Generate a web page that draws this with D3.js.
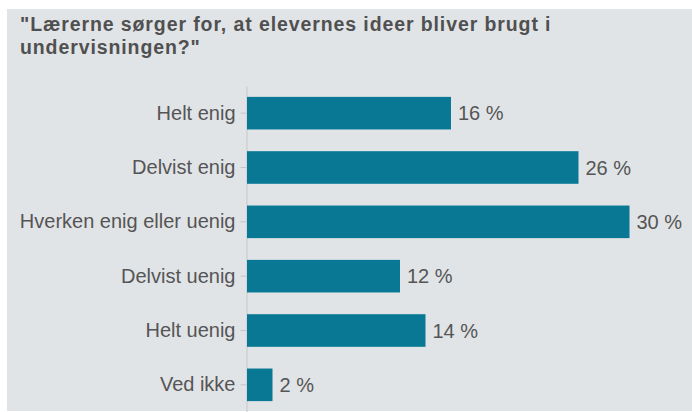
<!DOCTYPE html>
<html>
<head>
<meta charset="utf-8">
<script src="https://cdn.jsdelivr.net/npm/d3@7"></script>
<style>
  html, body { margin: 0; padding: 0; background: #ffffff; }
  svg { display: block; font-family: "Liberation Sans", Arial, Helvetica, sans-serif; }
</style>
</head>
<body>
<svg id="chart" width="692" height="412"></svg>
<script>
// Survey answers and their shares (percent)
const categories = ["Helt enig", "Delvist enig", "Hverken enig eller uenig", "Delvist uenig", "Helt uenig", "Ved ikke"];
const values = [16, 26, 30, 12, 14, 2];
const titleLines = ["\"Lærerne sørger for, at elevernes ideer bliver brugt i", "undervisningen?\""];

const svg = d3.select("#chart");
const W = 692, H = 412;

// Panel background
svg.append("rect")
  .attr("x", 7).attr("y", 9)
  .attr("width", W - 7).attr("height", 402)
  .attr("fill", "#e1e4e7");

// Title
svg.append("text")
  .attr("x", 20).attr("y", 31)
  .attr("font-size", 19.5).attr("font-weight", "bold")
  .attr("letter-spacing", 0.9)
  .attr("fill", "#505050")
  .selectAll("tspan")
  .data(titleLines)
  .join("tspan")
  .attr("x", 20)
  .attr("dy", (d, i) => i === 0 ? 0 : 22.5)
  .text(d => d);

const x0 = 247;
const x = d3.scaleLinear().domain([0, 30]).range([x0, x0 + 30 * 12.75]);
const y = d3.scaleBand().domain(categories).range([86, 412]).paddingInner(0.4).paddingOuter(0.2);

// Category axis
const axis = svg.append("g")
  .attr("transform", `translate(${x0 - 0.5},0)`)
  .call(d3.axisLeft(y).tickSize(6).tickSizeOuter(0).tickPadding(5));
axis.select(".domain").attr("stroke", "#c4c7ca");
axis.selectAll(".tick line").attr("stroke", "#c4c7ca");
axis.selectAll(".tick text")
  .attr("font-size", 20)
  .attr("font-family", "\"Liberation Sans\", Arial, sans-serif")
  .attr("fill", "#555555");

// Bars
svg.append("g").selectAll("rect")
  .data(values)
  .join("rect")
  .attr("x", x(0))
  .attr("y", (d, i) => y(categories[i]))
  .attr("width", d => x(d) - x(0))
  .attr("height", y.bandwidth())
  .attr("fill", "#087894");

// Value labels
svg.append("g").selectAll("text")
  .data(values)
  .join("text")
  .attr("x", d => x(d) + 7)
  .attr("y", (d, i) => y(categories[i]) + y.bandwidth() / 2)
  .attr("dy", "0.36em")
  .attr("font-size", 20)
  .attr("fill", "#555555")
  .text(d => `${d} %`);
</script>
</body>
</html>
